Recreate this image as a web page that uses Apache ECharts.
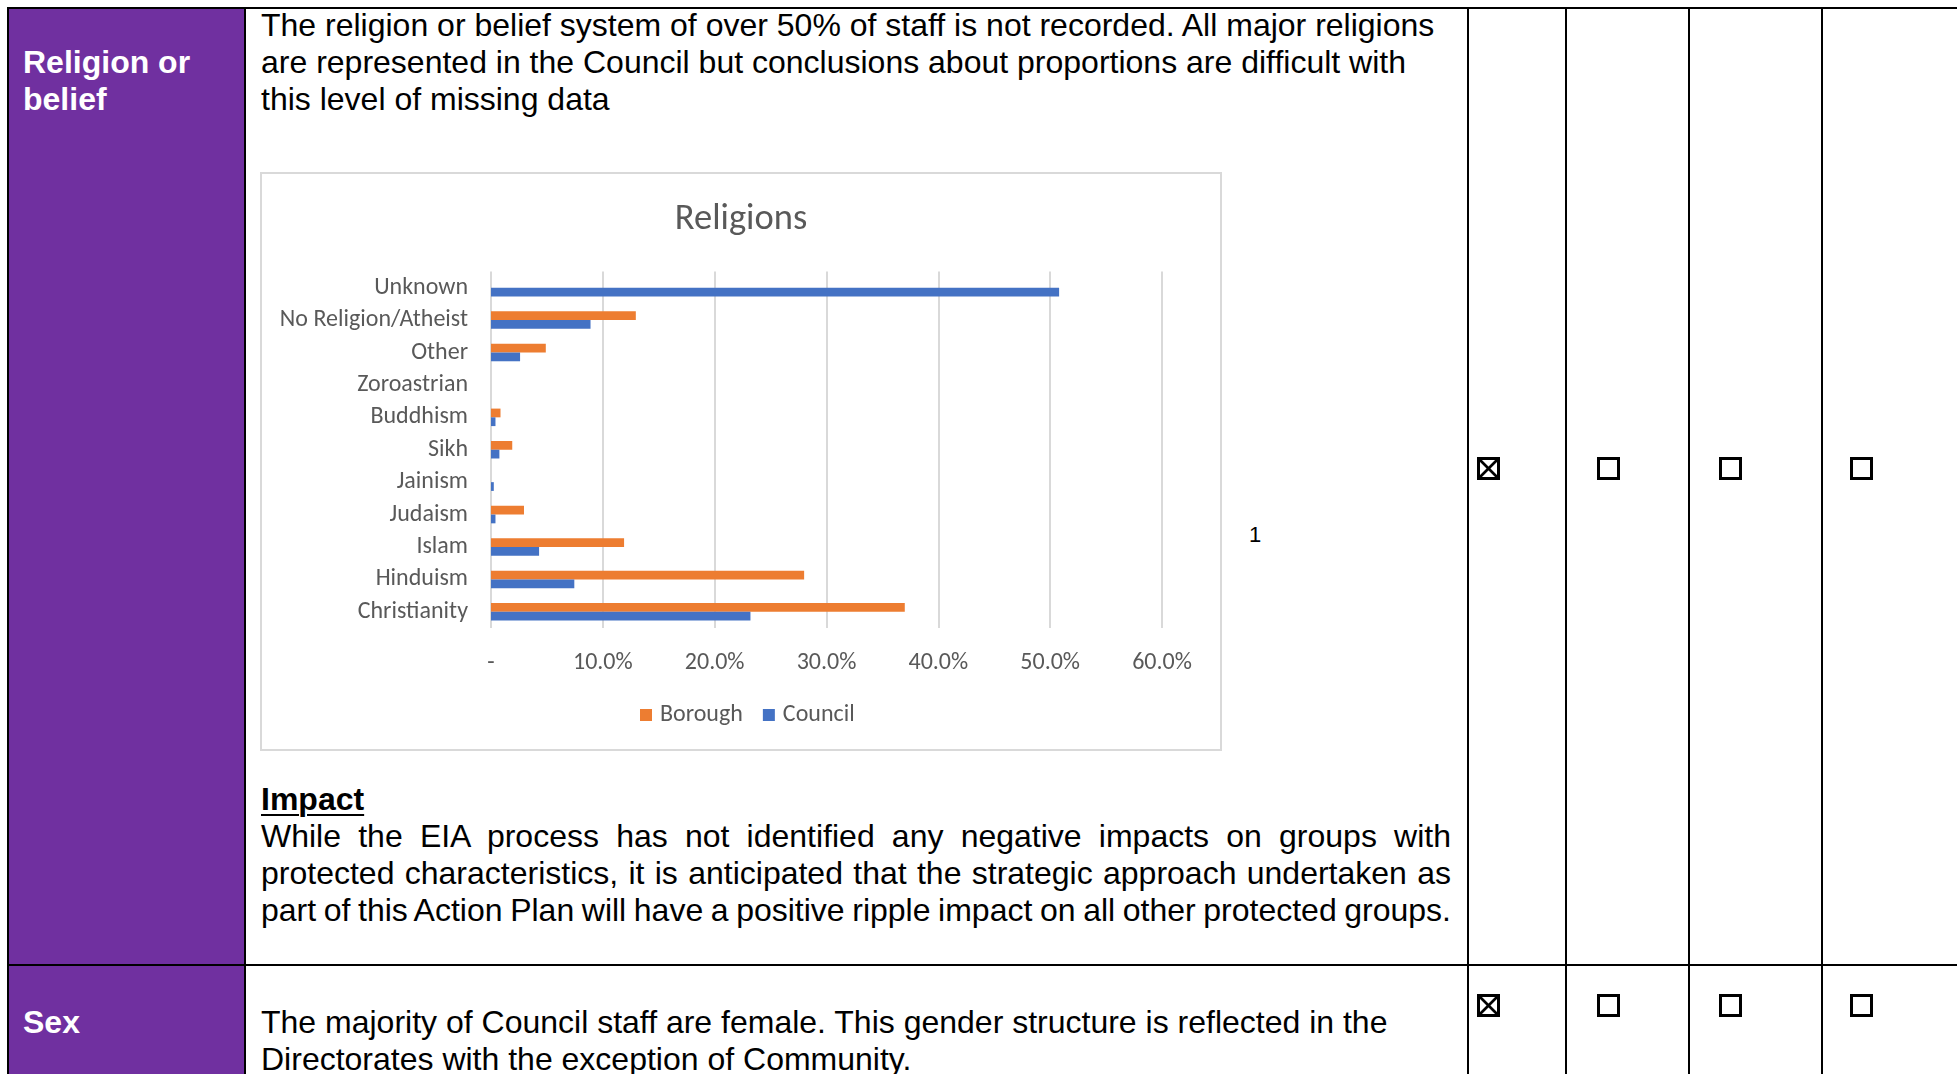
<!DOCTYPE html>
<html>
<head>
<meta charset="utf-8">
<script src="https://cdn.jsdelivr.net/npm/echarts@6/dist/echarts.min.js"></script>
<style>
  html, body { margin:0; padding:0; background:#fff; }
  body { width:1957px; height:1074px; overflow:hidden; position:relative;
         font-family:"Liberation Sans", Arial, sans-serif; color:#000; }
  .abs { position:absolute; }
  .hl { position:absolute; background:#000; height:2px; }
  .vl { position:absolute; background:#000; width:2px; }
  .txt { position:absolute; font-size:32px; line-height:37px; white-space:nowrap; }
  .hd { position:absolute; font-size:32px; line-height:37px; font-weight:bold; color:#fff; white-space:nowrap; }
  .just { display:block; width:1190px; text-align:justify; text-align-last:justify; white-space:nowrap; height:37px; }
  .cb { position:absolute; width:23px; height:23px; }
</style>
</head>
<body>
<!-- purple header column -->
<div class="abs" style="left:9px; top:9px; width:235px; height:1065px; background:#7030A0;"></div>

<!-- table lines -->
<div class="hl" style="left:7px; top:7px; width:1950px;"></div>
<div class="hl" style="left:7px; top:964px; width:1950px;"></div>
<div class="vl" style="left:7px; top:7px; height:1067px;"></div>
<div class="vl" style="left:244px; top:7px; height:1067px;"></div>
<div class="vl" style="left:1467px; top:7px; height:1067px;"></div>
<div class="vl" style="left:1565px; top:7px; height:1067px;"></div>
<div class="vl" style="left:1688px; top:7px; height:1067px;"></div>
<div class="vl" style="left:1821px; top:7px; height:1067px;"></div>

<!-- row 1 texts -->
<div class="hd" style="left:23px; top:44px;">Religion or<br>belief</div>
<div class="txt" style="left:261px; top:7px;">The religion or belief system of over 50% of staff is not recorded. All major religions<br>are represented in the Council but conclusions about proportions are difficult with<br>this level of missing data</div>

<div class="txt" style="left:261px; top:781px;">
  <span style="font-weight:bold; text-decoration:underline; text-decoration-thickness:2px; text-underline-offset:4px;">Impact</span>
</div>
<div class="txt" style="left:261px; top:818px; white-space:normal;">
  <span class="just">While the EIA process has not identified any negative impacts on groups with</span>
  <span class="just">protected characteristics, it is anticipated that the strategic approach undertaken as</span>
  <span class="just" style="word-spacing:-1.5px;">part of this Action Plan will have a positive ripple impact on all other protected groups.</span>
</div>

<div class="txt" style="left:1249px; top:523px; font-size:22px; line-height:24px;">1</div>

<!-- row 2 texts -->
<div class="hd" style="left:23px; top:1004px;">Sex</div>
<div class="txt" style="left:261px; top:1004px;">The majority of Council staff are female. This gender structure is reflected in the<br>Directorates with the exception of Community.</div>

<!-- checkboxes -->
<svg class="cb" style="left:1477px; top:457px;" viewBox="0 0 23 23"><rect x="1.5" y="1.5" width="20" height="20" fill="none" stroke="#000" stroke-width="3"/><line x1="3" y1="3" x2="20" y2="20" stroke="#000" stroke-width="2.6"/><line x1="20" y1="3" x2="3" y2="20" stroke="#000" stroke-width="2.6"/></svg>
<svg class="cb" style="left:1597px; top:457px;" viewBox="0 0 23 23"><rect x="1.5" y="1.5" width="20" height="20" fill="none" stroke="#000" stroke-width="3"/></svg>
<svg class="cb" style="left:1719px; top:457px;" viewBox="0 0 23 23"><rect x="1.5" y="1.5" width="20" height="20" fill="none" stroke="#000" stroke-width="3"/></svg>
<svg class="cb" style="left:1850px; top:457px;" viewBox="0 0 23 23"><rect x="1.5" y="1.5" width="20" height="20" fill="none" stroke="#000" stroke-width="3"/></svg>

<svg class="cb" style="left:1477px; top:994px;" viewBox="0 0 23 23"><rect x="1.5" y="1.5" width="20" height="20" fill="none" stroke="#000" stroke-width="3"/><line x1="3" y1="3" x2="20" y2="20" stroke="#000" stroke-width="2.6"/><line x1="20" y1="3" x2="3" y2="20" stroke="#000" stroke-width="2.6"/></svg>
<svg class="cb" style="left:1597px; top:994px;" viewBox="0 0 23 23"><rect x="1.5" y="1.5" width="20" height="20" fill="none" stroke="#000" stroke-width="3"/></svg>
<svg class="cb" style="left:1719px; top:994px;" viewBox="0 0 23 23"><rect x="1.5" y="1.5" width="20" height="20" fill="none" stroke="#000" stroke-width="3"/></svg>
<svg class="cb" style="left:1850px; top:994px;" viewBox="0 0 23 23"><rect x="1.5" y="1.5" width="20" height="20" fill="none" stroke="#000" stroke-width="3"/></svg>

<!-- chart box -->
<div id="chart" class="abs" style="left:260px; top:172px; width:962px; height:579px; box-sizing:border-box; border:2px solid #d9d9d9; background:#fff;"></div>

<script>
const categories = ['Christianity','Hinduism','Islam','Judaism','Jainism','Sikh','Buddhism','Zoroastrian','Other','No Religion/Atheist','Unknown'];
const borough = [37.0, 28.0, 11.9, 2.95, 0, 1.9, 0.85, 0, 4.9, 12.95, 0];
const council = [23.2, 7.45, 4.3, 0.4, 0.25, 0.75, 0.4, 0, 2.6, 8.9, 50.8];
const tickLabels = ['-', '10.0%', '20.0%', '30.0%', '40.0%', '50.0%', '60.0%'];
const seriesNames = ['Borough', 'Council'];

const chartFont = 'Carlito, Calibri, Lato, sans-serif';
const chart = echarts.init(document.getElementById('chart'), null, { renderer: 'canvas' });
chart.setOption({
  animation: false,
  backgroundColor: '#fff',
  title: {
    text: 'Religions', left: 'center', top: 22,
    textStyle: { color: '#595959', fontFamily: chartFont, fontSize: 36.5, fontWeight: 'normal' }
  },
  legend: {
    data: seriesNames, left: 378, top: 529, padding: 0,
    icon: 'rect', itemWidth: 12, itemHeight: 12, itemGap: 20,
    textStyle: { color: '#595959', fontFamily: chartFont, fontSize: 24, padding: [0, 0, 0, 3] }
  },
  grid: { left: 229, right: 58, top: 97.5, bottom: 121 },
  xAxis: {
    type: 'value', min: 0, max: 60, interval: 10,
    axisLine: { show: false }, axisTick: { show: false },
    splitLine: { show: true, lineStyle: { color: '#d9d9d9', width: 2 } },
    axisLabel: {
      color: '#595959', fontFamily: chartFont, fontSize: 24, margin: 23,
      formatter: function (v) { return tickLabels[Math.round(v / 10)]; }
    }
  },
  yAxis: {
    type: 'category', data: categories,
    axisLine: { show: false }, axisTick: { show: false },
    axisLabel: { color: '#595959', fontFamily: chartFont, fontSize: 24, margin: 23 }
  },
  series: [
    { name: seriesNames[0], type: 'bar', data: borough, itemStyle: { color: '#ED7D31' }, barGap: '0%', barCategoryGap: '46%' },
    { name: seriesNames[1], type: 'bar', data: council, itemStyle: { color: '#4472C4' }, barGap: '0%', barCategoryGap: '46%' }
  ]
});
</script>
</body>
</html>
